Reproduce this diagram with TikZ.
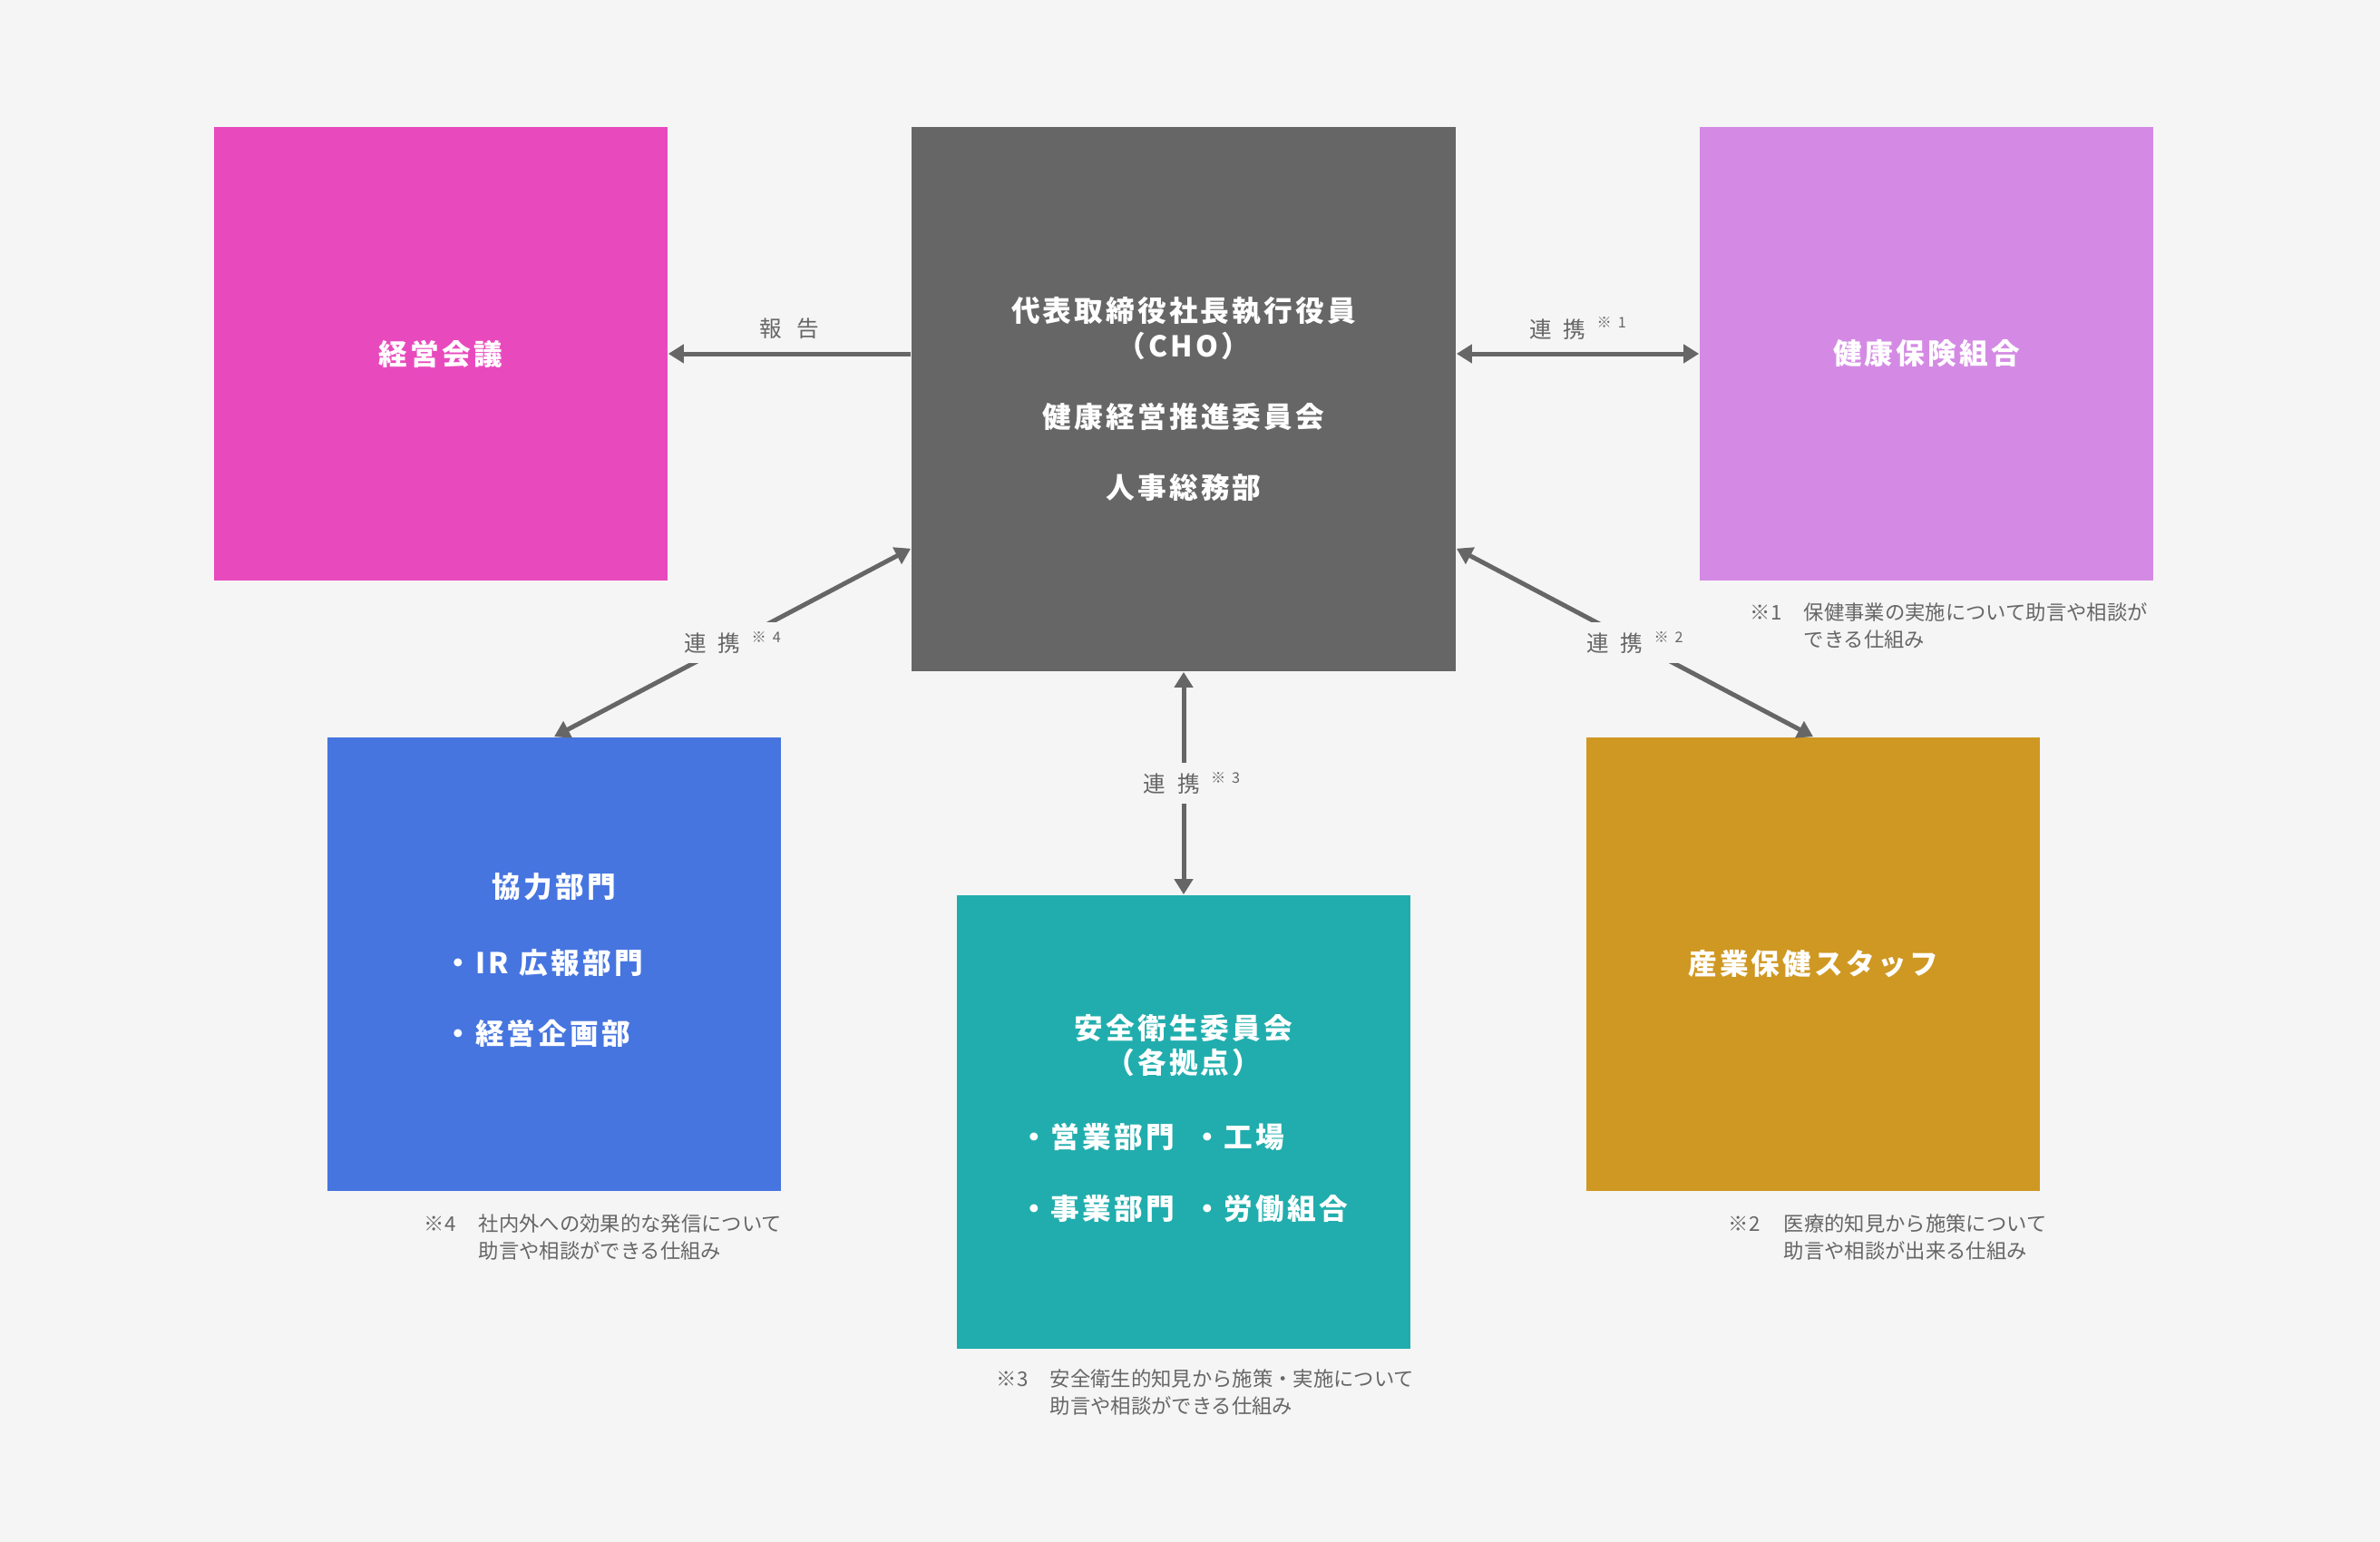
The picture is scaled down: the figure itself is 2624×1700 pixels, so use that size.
\documentclass[tikz,border=0pt]{standalone}
\usepackage{fontspec}
\usetikzlibrary{arrows.meta}
\newfontfamily\jp{Noto Sans CJK JP}
\newfontfamily\jpsp[LetterSpace=10]{Noto Sans CJK JP}
\definecolor{bgc}{HTML}{F5F5F5}
\definecolor{cg}{HTML}{666666}
\definecolor{cmag}{HTML}{E84ABE}
\definecolor{cvio}{HTML}{D48AE4}
\definecolor{cblu}{HTML}{4675E0}
\definecolor{ctea}{HTML}{21ADAD}
\definecolor{cgol}{HTML}{CF9822}
\newcommand\rkmark[1]{連\hspace{0.13cm}携\hspace{0.12cm}\raisebox{3pt}{\fontsize{4.6}{5}\selectfont ※\hspace{0.07cm}#1}}
\tikzset{
  box/.style={minimum width=5cm, minimum height=5cm, inner sep=0pt, text=white,
    font=\jpsp\bfseries\fontsize{9}{11}\selectfont, align=center},
  arr/.style={draw=cg, line width=0.05cm, -{Triangle[length=0.17cm,width=0.2cm]}},
  darr/.style={draw=cg, line width=0.05cm, {Triangle[length=0.17cm,width=0.2cm]}-{Triangle[length=0.17cm,width=0.2cm]}},
  lbl/.style={text=cg, font=\jp\fontsize{7}{8}\selectfont, inner sep=0pt},
  cut/.style={lbl, fill=bgc, inner xsep=2pt, minimum height=0.45cm},
  fnote/.style={text=cg, font=\jp\fontsize{6.35}{8.6}\selectfont, align=left, inner sep=0pt, anchor=north west},
}
\begin{document}
\begin{tikzpicture}[x=0.01cm, y=-0.01cm]
\fill[bgc] (0,0) rectangle (2624,1700);
\useasboundingbox (0,0) rectangle (2624,1700);

\node[box, fill=cmag] (keiei) at (486,390) {経営会議};
\node[box, fill=cg, minimum width=6cm, minimum height=6cm] (cho) at (1305,440)
  {代表取締役社長執行役員\\（CHO）\\[11.3pt]健康経営推進委員会\\[11pt]人事総務部};
\node[box, fill=cvio] (kenpo) at (2124,390) {健康保険組合};
\node[box, fill=cblu] (kyo) at (611,1063)
  {協力部門\\[12.9pt]\hspace*{-0.24cm}\begin{tabular}[t]{@{}l@{}}・IR\hspace{0.12cm}広報部門\\[11.2pt]・経営企画部\end{tabular}};
\node[box, fill=ctea] (anzen) at (1305,1237)
  {安全衛生委員会\\（各拠点）\\[12.3pt]\begin{tabular}[t]{@{}l@{\hspace{0.2cm}}l@{}}・営業部門 & ・工場\\[11.4pt]・事業部門 & ・労働組合\end{tabular}};
\node[box, fill=cgol] (sangyo) at (1999,1063) {産業保健スタッフ};

\coordinate (chol) at ([yshift=1.36cm]cho.south west);
\coordinate (chor) at ([yshift=1.36cm]cho.south east);

\draw[arr] (keiei.east -| cho.west) -- node[lbl, midway, yshift=0.28cm] (hokoku) {報\hspace{0.16cm}告} (keiei.east);
\draw[darr] (kenpo.west -| cho.east) -- node[lbl, midway, yshift=0.28cm] (rk1) {\rkmark{1}} (kenpo.west);
\draw[darr] (chol) -- node[cut, midway] (rk4) {\rkmark{4}} (kyo.north);
\draw[darr] (chor) -- node[cut, midway] (rk2) {\rkmark{2}} (sangyo.north);
\draw[darr] (cho.south) -- node[cut, midway, xshift=0.09cm] (rk3) {\rkmark{3}} (anzen.north);

\node[fnote] (fn1) at (1929,664) {\makebox[0.59cm][l]{※1}保健事業の実施について助言や相談が\\\makebox[0.59cm]{}できる仕組み};
\node[fnote] (fn4) at (467,1338) {\makebox[0.6cm][l]{※4}社内外への効果的な発信について\\\makebox[0.6cm]{}助言や相談ができる仕組み};
\node[fnote] (fn2) at (1905,1338) {\makebox[0.61cm][l]{※2}医療的知見から施策について\\\makebox[0.61cm]{}助言や相談が出来る仕組み};
\node[fnote] (fn3) at (1098,1509) {\makebox[0.59cm][l]{※3}安全衛生的知見から施策・実施について\\\makebox[0.59cm]{}助言や相談ができる仕組み};
\end{tikzpicture}
\end{document}
